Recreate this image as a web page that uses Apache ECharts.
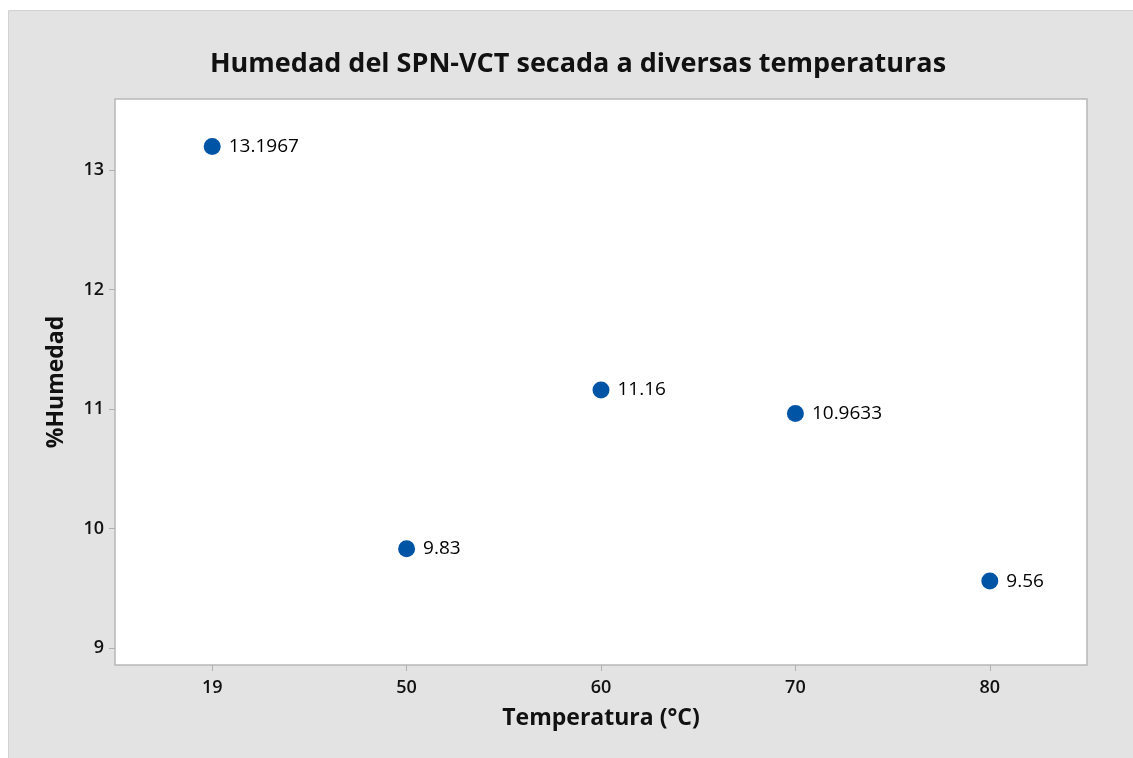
<!DOCTYPE html>
<html>
<head>
<meta charset="utf-8">
<script src="https://cdn.jsdelivr.net/npm/echarts@6/dist/echarts.min.js"></script>
<style>
html,body{margin:0;padding:0;background:#fff;}
#c{width:1133px;height:758px;}
</style>
</head>
<body>
<div id="c"></div>
<script>
var categories = ['19', '50', '60', '70', '80'];
var humedad = [13.1967, 9.83, 11.16, 10.9633, 9.56];
var yTicks = [9, 10, 11, 12, 13];

var FONT = '"Open Sans", "Noto Sans", sans-serif';
var chart = echarts.init(document.getElementById('c'), null, {renderer: 'canvas'});
chart.setOption({
  backgroundColor: '#ffffff',
  animation: false,
  graphic: [
    {type: 'rect', left: 8, top: 10, z: -10,
     shape: {width: 1135, height: 760},
     style: {fill: '#e3e3e3', stroke: '#d2d2d2', lineWidth: 1}}
  ],
  title: {
    text: 'Humedad del SPN-VCT secada a diversas temperaturas',
    left: 573, top: 46, textAlign: 'center',
    textStyle: {fontFamily: FONT, fontWeight: 'bold', fontSize: 27, color: '#111'}
  },
  grid: {left: 115, top: 99, right: 46, bottom: 93, show: true,
         backgroundColor: '#ffffff', borderColor: '#b8b8b8', borderWidth: 1.5},
  xAxis: {
    type: 'category', data: categories, boundaryGap: true,
    name: 'Temperatura (°C)', nameLocation: 'middle', nameGap: 42,
    nameTextStyle: {fontFamily: FONT, fontWeight: 'bold', fontSize: 23, color: '#111'},
    axisLine: {show: false},
    axisTick: {show: true, alignWithLabel: true, length: 6, lineStyle: {color: '#b0b0b0'}},
    axisLabel: {fontFamily: FONT, fontWeight: 600, fontSize: 18, color: '#111', margin: 14},
    splitLine: {show: false}
  },
  yAxis: {
    type: 'value', min: 8.858, max: 13.594,
    name: '%Humedad', nameLocation: 'middle', nameGap: 47, nameRotate: 90,
    nameTextStyle: {fontFamily: FONT, fontWeight: 'bold', fontSize: 23, color: '#111'},
    axisLine: {show: false},
    axisTick: {show: true, length: 6, lineStyle: {color: '#b0b0b0'}, customValues: yTicks},
    axisLabel: {fontFamily: FONT, fontWeight: 600, fontSize: 18, color: '#111', margin: 11, customValues: yTicks,
                formatter: function (v) { return String(v); }},
    splitLine: {show: false}
  },
  series: [{
    type: 'scatter',
    data: humedad,
    symbol: 'circle', symbolSize: 17,
    itemStyle: {color: '#0054a6', opacity: 1},
    label: {show: true, position: 'right', distance: 8,
            fontFamily: FONT, fontSize: 19, color: '#000', opacity: 1,
            formatter: function (p) { return String(p.value); }}
  }]
});
</script>
</body>
</html>
